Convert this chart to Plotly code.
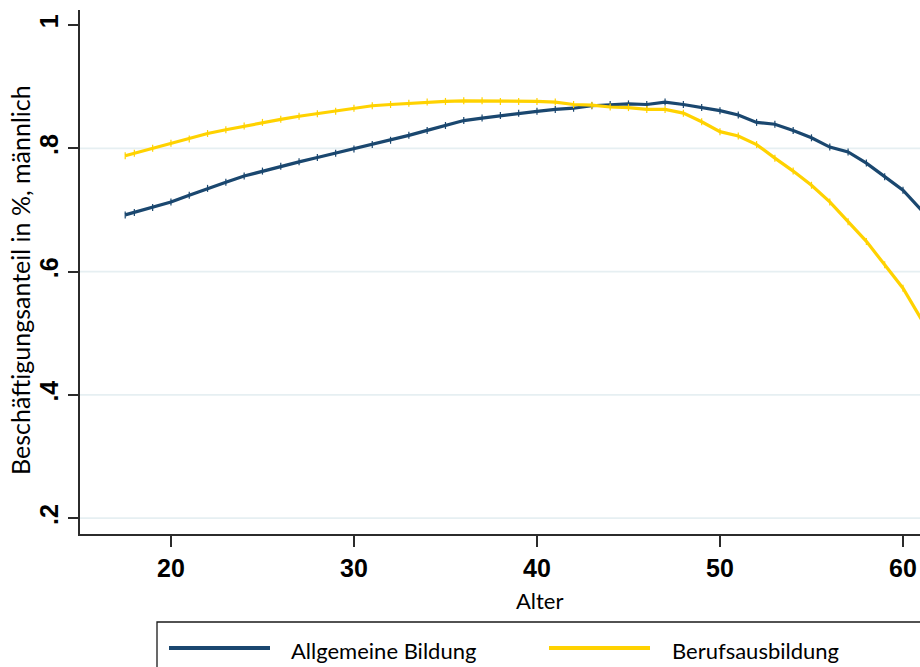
import plotly.graph_objects as go

# ---- data ----
ages = [17.5, 18, 19, 20, 21, 22, 23, 24, 25, 26, 27, 28, 29, 30, 31, 32, 33, 34, 35,
        36, 37, 38, 39, 40, 41, 42, 43, 44, 45, 46, 47, 48, 49, 50, 51, 52, 53, 54,
        55, 56, 57, 58, 59, 60, 61]

allgemeine = [0.692, 0.696, 0.704, 0.713, 0.724, 0.735, 0.745, 0.755, 0.763, 0.771,
              0.778, 0.785, 0.792, 0.799, 0.806, 0.813, 0.821, 0.829, 0.837, 0.845,
              0.849, 0.853, 0.857, 0.860, 0.863, 0.865, 0.869, 0.871, 0.872, 0.871,
              0.875, 0.871, 0.866, 0.861, 0.854, 0.842, 0.839, 0.829, 0.817, 0.802,
              0.794, 0.776, 0.754, 0.732, 0.700]

beruf = [0.788, 0.792, 0.800, 0.808, 0.815, 0.824, 0.830, 0.836, 0.842, 0.847,
         0.852, 0.856, 0.860, 0.865, 0.869, 0.871, 0.873, 0.875, 0.876, 0.877,
         0.877, 0.876, 0.876, 0.876, 0.875, 0.871, 0.870, 0.867, 0.866, 0.863,
         0.863, 0.857, 0.843, 0.827, 0.820, 0.806, 0.784, 0.763, 0.740, 0.713,
         0.681, 0.649, 0.611, 0.573, 0.523]

series_names = ["Allgemeine Bildung", "Berufsausbildung"]
x_ticks = [20, 30, 40, 50, 60]
x_ticktext = ["20", "30", "40", "50", "60"]
y_ticks = [0.2, 0.4, 0.6, 0.8, 1.0]
y_ticktext = [".2", ".4", ".6", ".8", "1"]
grid_vals = [0.2, 0.4, 0.6, 0.8]

BLUE = "#1a476f"
YELLOW = "#ffd200"
GRID = "#e6eff2"
AX = "#2b2b2b"

fig = go.Figure()
for vals, name, col in [(allgemeine, series_names[0], BLUE), (beruf, series_names[1], YELLOW)]:
    fig.add_trace(go.Scatter(
        x=ages, y=vals, name=name, mode="lines+markers",
        line=dict(color=col, width=3.2),
        marker=dict(symbol="line-ns", size=5, line=dict(color=col, width=1.2)),
        showlegend=False, cliponaxis=True,
    ))

# horizontal gridlines (no line at the top tick, as in the reference)
for g in grid_vals:
    fig.add_shape(type="line", xref="paper", yref="y", x0=0, x1=1, y0=g, y1=g,
                  line=dict(color=GRID, width=1.8), layer="below")

# legend box drawn manually (extends beyond the visible area as in the reference)
def px_x(p):
    return (p - 80) / 840.0

def px_y(p):
    return (534 - p) / 524.0

fig.add_shape(type="rect", xref="paper", yref="paper",
              x0=px_x(157), x1=px_x(940), y0=px_y(622), y1=px_y(690),
              line=dict(color="#1a1a1a", width=1.3), fillcolor="white", layer="above")
fig.add_shape(type="line", xref="paper", yref="paper",
              x0=px_x(169), x1=px_x(270), y0=px_y(648), y1=px_y(648),
              line=dict(color=BLUE, width=4))
fig.add_shape(type="line", xref="paper", yref="paper",
              x0=px_x(549), x1=px_x(650), y0=px_y(648), y1=px_y(648),
              line=dict(color=YELLOW, width=4))

TXT_FONT = "Lato, 'Open Sans', 'Liberation Sans', sans-serif"
fig.add_annotation(xref="paper", yref="paper", x=px_x(289), y=px_y(650),
                   xanchor="left", yanchor="middle", showarrow=False,
                   text=series_names[0], font=dict(family=TXT_FONT, size=22, color="black"))
fig.add_annotation(xref="paper", yref="paper", x=px_x(670), y=px_y(650),
                   xanchor="left", yanchor="middle", showarrow=False,
                   text=series_names[1], font=dict(family=TXT_FONT, size=22, color="black"))

# axis titles
fig.add_annotation(xref="x", yref="paper", x=40.16, y=px_y(600),
                   xanchor="center", yanchor="middle", showarrow=False,
                   text="Alter", font=dict(family=TXT_FONT, size=22, color="black"))
fig.add_annotation(xref="paper", yref="paper", x=px_x(20), y=px_y(280),
                   xanchor="center", yanchor="middle", showarrow=False, textangle=-90,
                   text="Beschäftigungsanteil in %, männlich",
                   font=dict(family=TXT_FONT, size=25, color="black"))

TICK_FONT = dict(family="'Liberation Sans', Arial, sans-serif", size=25, color="black", weight="bold")

fig.update_layout(
    width=920, height=667,
    margin=dict(l=80, r=0, t=10, b=133),
    paper_bgcolor="white", plot_bgcolor="white",
    xaxis=dict(range=[15.03, 60.93], tickvals=x_ticks, ticktext=x_ticktext,
               showgrid=False, zeroline=False, showline=True, linecolor=AX, linewidth=1.6,
               ticks="outside", ticklen=11, tickwidth=1.5, tickcolor=AX,
               tickfont=TICK_FONT),
    yaxis=dict(range=[0.1744, 1.0243], tickvals=y_ticks, ticktext=y_ticktext,
               showgrid=False, zeroline=False, showline=True, linecolor=AX, linewidth=1.6,
               ticks="outside", ticklen=10, tickwidth=1.5, tickcolor=AX,
               tickangle=-90, tickfont=TICK_FONT, ticklabelstandoff=0),
)

fig.write_html("out.html", config={"displayModeBar": False},
               post_script="document.body.style.margin='0';document.body.style.overflow='hidden';")
